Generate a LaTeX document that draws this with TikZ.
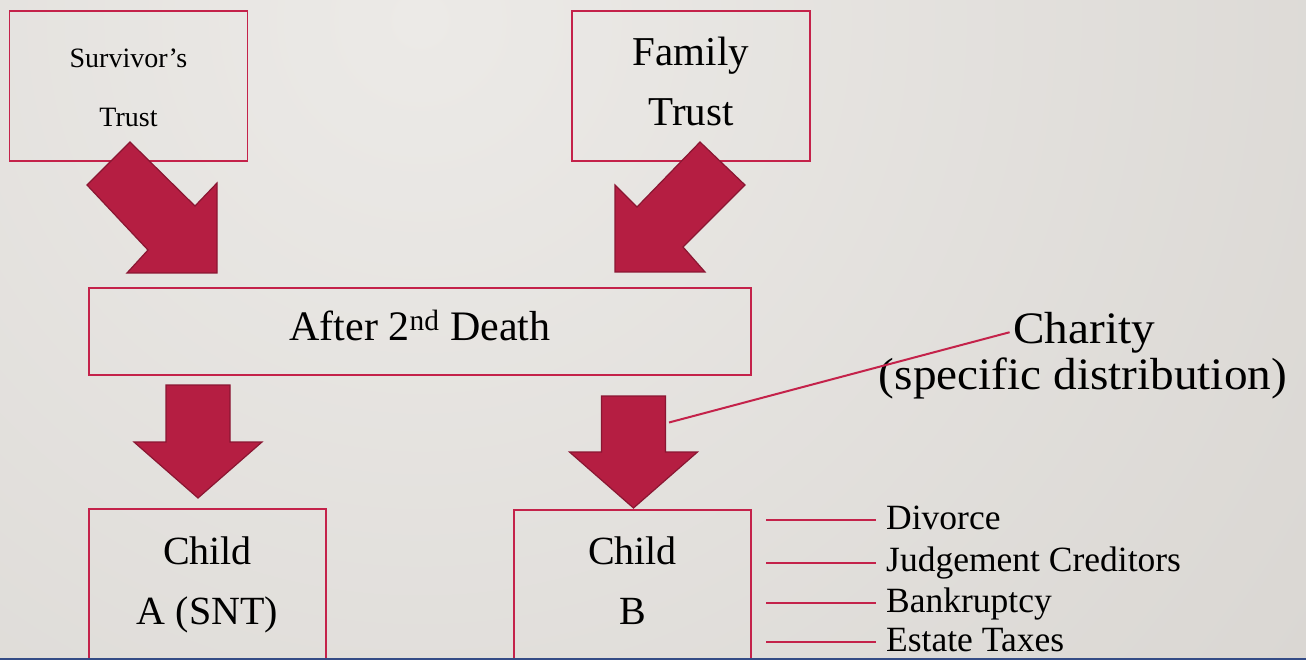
\documentclass[tikz,border=0pt]{standalone}
\usepackage{fontspec}
\setmainfont{Liberation Serif}
\newfontfamily\widefont{Liberation Serif}[FakeStretch=1.05]
\usepackage{tikz}
\usetikzlibrary{positioning}
\usetikzlibrary{calc}

\definecolor{bgin}{RGB}{236,234,231}
\definecolor{bgout}{RGB}{198,194,189}
\definecolor{boxred}{RGB}{196,34,74}
\definecolor{arrred}{RGB}{181,30,66}
\definecolor{arrdark}{RGB}{138,22,50}
\definecolor{barblue}{RGB}{52,76,134}

\tikzset{
  tbox/.style={draw=boxred, line width=1.8pt, inner sep=0pt},
  bigarrow/.style={fill=arrred, draw=arrdark, line width=1.2pt, line join=miter},
  tieline/.style={draw=boxred, line width=2pt},
}

\begin{document}
\begin{tikzpicture}[x=1pt, y=-1pt]

	\clip (0,0) rectangle (1306,660);
	\shade[inner color=bgin, outer color=bgout] (420,20) circle (2300pt);

%top
	\node[tbox, minimum width=238pt, minimum height=150pt] (surv) at (128.5,86) {};
	\node[tbox, minimum width=238pt, minimum height=150pt] (fam) at (691,86) {};

    \foreach \y/\txt/\name in { 68/Survivor’s/surv1, 127/Trust/surv2} {
         \node[anchor=base, font=\fontsize{28}{34}\selectfont] (\name) at (128.5,\y) {\txt};
    }
    \foreach \y/\txt/\name in { 66/Family/fam1, 126/Trust/fam2} {
         \node[anchor=base, font=\fontsize{41}{48}\selectfont] (\name) at (691,\y) {\txt};
    }

	\filldraw[bigarrow] (130,142) -- (195,206) -- (217,183) -- (217,273) -- (127,273) -- (148,250) -- (87,185) -- cycle;
	\filldraw[bigarrow] (700,142) -- (745,185) -- (683,247) -- (705,272) -- (615,272) -- (615,185) -- (637,207) -- cycle;

%middle
	\node[tbox, minimum width=662pt, minimum height=87pt] (after) at (420,331.5) {};
	\node[anchor=base, font=\fontsize{42}{50}\selectfont] (aftertxt) at (420,340) {After 2\textsuperscript{nd} Death};

    \foreach \cx/\top/\hy/\tip in { 198/385/442/498, 633.5/396/452/508} {
         \filldraw[bigarrow] (\cx-32,\top) -- (\cx+32,\top) -- (\cx+32,\hy) -- (\cx+64,\hy) -- (\cx,\tip) -- (\cx-64,\hy) -- (\cx-32,\hy) -- cycle;
    }

%charity
	\node[anchor=base, font=\widefont\fontsize{45}{54}\selectfont] (charity) at (1084,343) {Charity};
	\node[anchor=base, font=\widefont\fontsize{45}{54}\selectfont] (specific) at (1083,389) {(specific distribution)};
	\coordinate (charfoot) at (669,422.5);
	\draw[tieline] (charfoot) -- (charity.west);

%bottom
	\node[tbox, minimum width=237pt, minimum height=190pt] (childa) at (207.5,604) {};
	\node[tbox, minimum width=237pt, minimum height=190pt] (childb) at (632.5,605) {};
    \foreach \x/\y/\txt/\name in { 207.5/564/Child/childa1, 207.5/624/A (SNT)/childa2, 632.5/564/Child/childb1, 632.5/624/B/childb2} {
         \node[anchor=base, font=\fontsize{40}{48}\selectfont] (\name) at (\x,\y) {\txt};
    }

    \foreach \y/\ly/\txt/\name in { 529/520/Divorce/divorce, 571/563/Judgement Creditors/judgement, 612/603/Bankruptcy/bankrupt, 651/642/Estate Taxes/estate} {
         \node[anchor=base west, inner sep=0pt, font=\fontsize{35.5}{42}\selectfont] (\name) at (886,\y) {\txt};
         \coordinate (\name foot) at (766,\ly);
         \draw[tieline, shorten >=10pt] (\name foot) -- (\name foot -| \name.west);
    }

	\draw[barblue, line width=2.5pt] (0,658.8) -- (1306,658.8);

\end{tikzpicture}
\end{document}
